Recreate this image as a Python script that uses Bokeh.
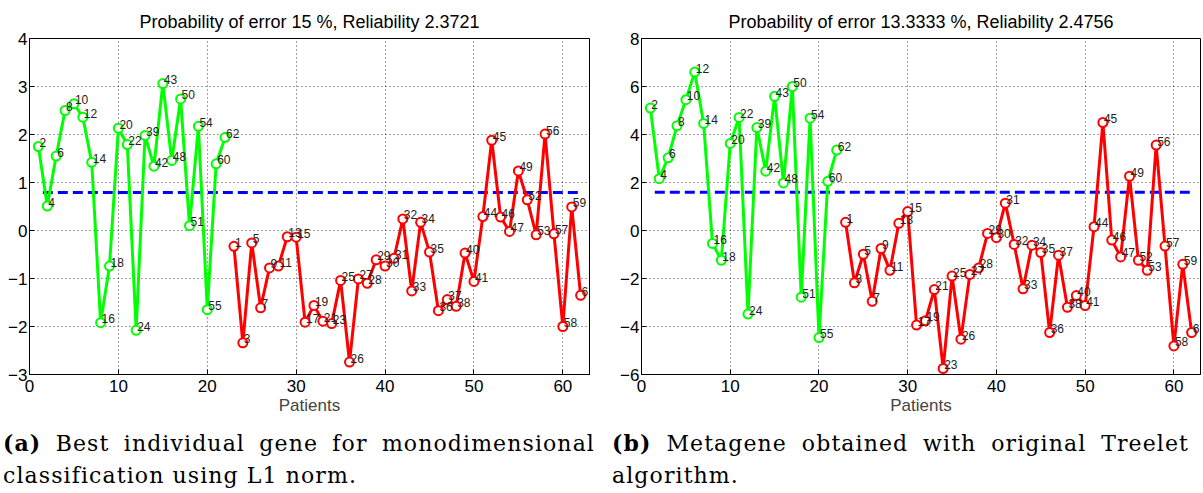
from bokeh.plotting import figure
from bokeh.models import Range1d, Div, FixedTicker, ColumnDataSource
from bokeh.layouts import column, row
from bokeh.embed import file_html
from bokeh.resources import INLINE
from bokeh.core.properties import value

# ---------------- data ----------------
patients_green = list(range(1, 23))
patients_red = list(range(23, 63))

labels_green = [2, 4, 6, 8, 10, 12, 14, 16, 18, 20, 22, 24, 39, 42, 43, 48, 50, 51, 54, 55, 60, 62]
labels_red = [1, 3, 5, 7, 9, 11, 13, 15, 17, 19, 21, 23, 25, 26, 27, 28, 29, 30, 31, 32,
              33, 34, 35, 36, 37, 38, 40, 41, 44, 45, 46, 47, 49, 52, 53, 56, 57, 58, 59, 61]

a_green = [1.75, 0.51, 1.55, 2.5, 2.64, 2.36, 1.42, -1.92, -0.74, 2.13, 1.79, -2.08, 1.98, 1.34,
           3.06, 1.46, 2.74, 0.1, 2.17, -1.65, 1.39, 1.94]
a_red = [-0.33, -2.34, -0.26, -1.61, -0.78, -0.74, -0.13, -0.14, -1.91, -1.56,
         -1.89, -1.94, -1.04, -2.74, -1.01, -1.10, -0.61, -0.74, -0.58, 0.24,
         -1.26, 0.17, -0.45, -1.67, -1.44, -1.58, -0.47, -1.06, 0.29, 1.88,
         0.28, -0.02, 1.24, 0.64, -0.09, 2.01, -0.07, -2.0, 0.49, -1.35]
a_threshold = 0.79

b_green = [5.1, 2.16, 3.03, 4.36, 5.45, 6.6, 4.46, -0.54, -1.24, 3.63, 4.71, -3.48, 4.29, 2.47,
           5.59, 1.98, 6.0, -2.78, 4.68, -4.46, 2.05, 3.35]
b_red = [0.34, -2.18, -0.99, -2.95, -0.75, -1.66, 0.30, 0.79, -3.94, -3.76,
         -2.46, -5.75, -1.90, -4.53, -1.83, -1.56, -0.12, -0.3, 1.14, -0.58,
         -2.43, -0.61, -0.92, -4.25, -1.03, -3.2, -2.71, -3.13, 0.16, 4.5,
         -0.4, -1.1, 2.26, -1.24, -1.66, 3.56, -0.65, -4.81, -1.41, -4.25]
b_threshold = 1.59

threshold_x = [1.5, 62]
x_ticks = [0, 10, 20, 30, 40, 50, 60]
a_yticks = [-3, -2, -1, 0, 1, 2, 3, 4]
b_yticks = [-6, -4, -2, 0, 2, 4, 6, 8]

title_a = "Probability of error 15 %, Reliability 2.3721"
title_b = "Probability of error 13.3333 %, Reliability 2.4756"
caption_a = ("(a)", "Best individual gene for monodimensional", "classification using L1 norm.")
caption_b = ("(b)", "Metagene obtained with original Treelet", "algorithm.")

SANS = "Liberation Sans"
GREEN = "#00ff00"
RED = "#ff0000"


def make_panel(title, green, red, thr, yticks, width, left, right):
    p = figure(width=width, height=420, output_backend="svg", toolbar_location=None,
               x_range=Range1d(0, 63), y_range=Range1d(yticks[0], yticks[-1]),
               min_border_left=left, min_border_right=right, min_border_top=38,
               min_border_bottom=46, title=title)
    p.title.align = "center"
    p.title.text_font = SANS
    p.title.text_font_size = "18px"
    p.title.text_font_style = "normal"
    p.title.text_color = "black"
    p.title.standoff = 14
    p.outline_line_color = "black"
    p.outline_line_width = 1
    p.background_fill_color = "white"
    p.border_fill_color = "white"

    for ax in (p.xaxis[0], p.yaxis[0]):
        ax.major_tick_in = 5
        ax.major_tick_out = 0
        ax.minor_tick_in = 0
        ax.minor_tick_out = 0
        ax.axis_line_color = "black"
        ax.major_tick_line_color = "black"
        ax.major_label_text_font = SANS
        ax.major_label_text_font_size = "17px"
        ax.major_label_text_color = "black"
    p.xaxis.ticker = FixedTicker(ticks=x_ticks)
    p.yaxis.ticker = FixedTicker(ticks=yticks)
    p.xaxis.major_label_standoff = 5
    p.yaxis.major_label_standoff = 2
    p.xaxis.axis_label = "Patients"
    p.xaxis.axis_label_text_font = SANS
    p.xaxis.axis_label_text_font_size = "17px"
    p.xaxis.axis_label_text_font_style = "normal"
    p.xaxis.axis_label_standoff = 1

    for g in (p.xgrid[0], p.ygrid[0]):
        g.grid_line_color = "black"
        g.grid_line_alpha = 0.75
        g.grid_line_dash = "1 3"
        g.grid_line_width = 1

    p.line(threshold_x, [thr, thr], line_color="#0000ff", line_width=3, line_dash="10 5")

    for xs, ys, labs, col in ((patients_green, green, labels_green, GREEN),
                              (patients_red, red, labels_red, RED)):
        src = ColumnDataSource(dict(x=xs, y=ys, t=[str(v) for v in labs]))
        p.line("x", "y", source=src, line_color=col, line_width=3)
        p.scatter("x", "y", source=src, marker="circle", size=9, line_color=col,
                  line_width=2, fill_color="white")
        p.text("x", "y", text="t", source=src, text_font=value(SANS), text_font_size="12px",
               text_color="#222222", text_align="left", text_baseline="middle",
               x_offset=1, y_offset=-4)
    return p


pa = make_panel(title_a, a_green, a_red, a_threshold, a_yticks, 600, 29, 11)
pb = make_panel(title_b, b_green, b_red, b_threshold, b_yticks, 603, 41, 3)


def make_caption(cap, width, left_pad):
    html = (
        f'<div style="font-family:\'DejaVu Serif\';font-size:22px;line-height:32px;color:black;'
        f'letter-spacing:1.1px;padding-top:7px;'
        f'width:{width - left_pad - 2}px;padding-left:{left_pad}px;">'
        f'<div style="text-align:justify;text-align-last:justify;white-space:normal;">'
        f'<b>{cap[0]}</b> {cap[1]}</div>'
        f'<div>{cap[2]}</div></div>'
    )
    return Div(text=html, width=width, height=73, margin=(0, 0, 0, 0))


ca = make_caption(caption_a, 600, 3)
cb = make_caption(caption_b, 603, 12)

layout = column(row(pa, pb, spacing=0), row(ca, cb, spacing=0), spacing=0)

open("out.html", "w").write(file_html(layout, INLINE))
